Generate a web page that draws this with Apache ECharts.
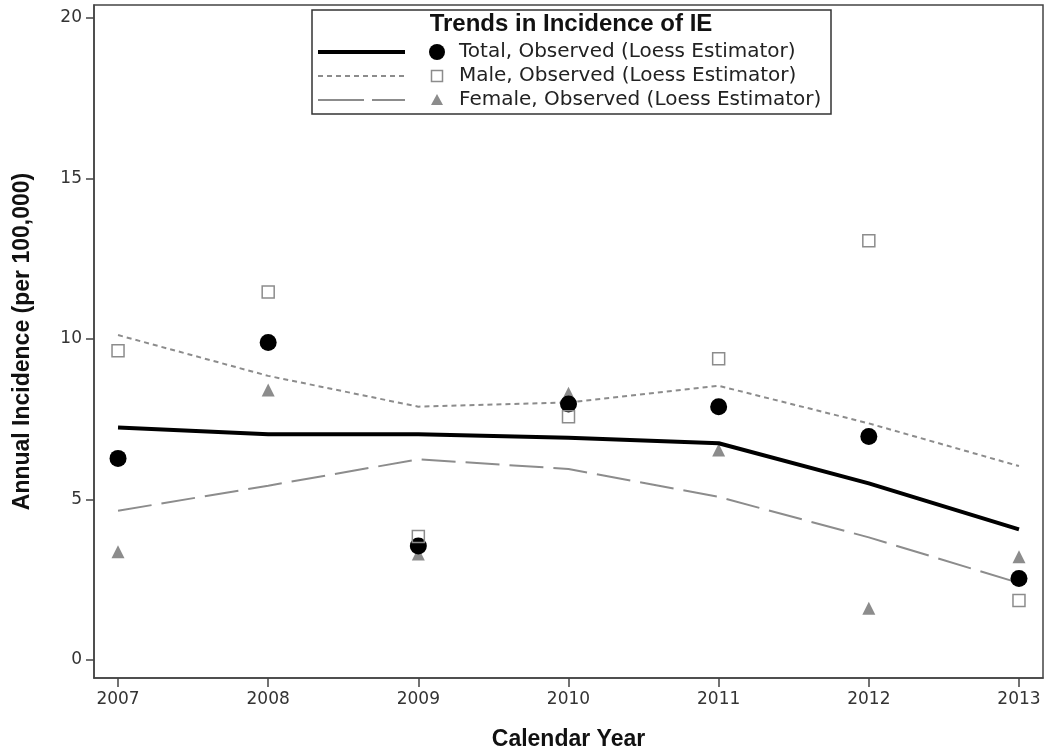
<!DOCTYPE html>
<html><head><meta charset="utf-8">
<script src="https://cdn.jsdelivr.net/npm/echarts@6/dist/echarts.min.js"></script>
<style>html,body{margin:0;padding:0;background:#fff}#c{width:1050px;height:751px}</style>
</head><body><div id="c"></div>
<script>
const years = [2007, 2008, 2009, 2010, 2011, 2012, 2013];
const yTicks = [0, 5, 10, 15, 20];
// Loess estimates
const totalLoess  = [7.24, 7.03, 7.03, 6.92, 6.75, 5.50, 4.07];
const maleLoess   = [10.12, 8.85, 7.89, 8.02, 8.54, 7.37, 6.04];
const femaleLoess = [4.65, 5.43, 6.25, 5.95, 5.08, 3.82, 2.40];
// Observed
const totalObs  = [6.28, 9.89, 3.55, 7.97, 7.89, 6.96, 2.54];
const maleObs   = [9.63, 11.46, 3.85, 7.58, 9.38, 13.06, 1.85];
const femaleObs = [3.37, 8.41, 3.30, 8.31, 6.54, 1.61, 3.22];

const legendTitle = 'Trends in Incidence of IE';
const legendNames = ['Total, Observed (Loess Estimator)', 'Male, Observed (Loess Estimator)', 'Female, Observed (Loess Estimator)'];

const pairs = arr => years.map((y, i) => [y, arr[i]]);
const GRAY = '#8c8c8c';
const TXT = '#333';

const chart = echarts.init(document.getElementById('c'), null, {renderer: 'canvas'});

const lx0 = 318, lx1 = 405, mx = 437, tx = 459;
const rows = [52, 76, 100];

chart.setOption({
  animation: false,
  backgroundColor: '#fff',
  grid: {left: 94, right: 7, top: 5, bottom: 73, show: true, borderColor: '#444', borderWidth: 1.5, containLabel: false, outerBoundsMode: 'none'},
  xAxis: {
    type: 'value', min: 2006.84, max: 2013.16, position: 'bottom',
    name: 'Calendar Year', nameLocation: 'middle', nameGap: 50,
    nameTextStyle: {fontFamily: 'Liberation Sans', fontWeight: 'bold', fontSize: 23, color: '#111'},
    axisLine: {show: true, onZero: false, lineStyle: {color: '#444', width: 1.5}},
    axisTick: {show: true, inside: false, length: 9, lineStyle: {color: '#444', width: 1.5}, customValues: years},
    axisLabel: {customValues: years, fontFamily: 'DejaVu Sans', fontSize: 17, color: TXT, margin: 13, formatter: v => String(v)},
    splitLine: {show: false}
  },
  yAxis: {
    type: 'value', min: -0.56, max: 20.4, position: 'left',
    name: 'Annual Incidence (per 100,000)', nameLocation: 'middle', nameGap: 60, nameRotate: 90,
    nameTextStyle: {fontFamily: 'Liberation Sans', fontWeight: 'bold', fontSize: 23, color: '#111'},
    axisLine: {show: true, onZero: false, lineStyle: {color: '#444', width: 1.5}},
    axisTick: {show: true, inside: false, length: 8, lineStyle: {color: '#444', width: 1.5}, customValues: yTicks},
    axisLabel: {customValues: yTicks, fontFamily: 'DejaVu Sans', fontSize: 17, color: TXT, margin: 12},
    splitLine: {show: false}
  },
  series: [
    {name: 'femaleLoess', type: 'line', data: pairs(femaleLoess), symbol: 'none', z: 2,
     lineStyle: {color: GRAY, width: 2, type: [34, 10]}},
    {name: 'maleLoess', type: 'line', data: pairs(maleLoess), symbol: 'none', z: 2,
     lineStyle: {color: GRAY, width: 2, type: [5, 4]}},
    {name: 'femaleObs', type: 'scatter', data: pairs(femaleObs), symbol: 'triangle', symbolSize: 13, z: 3,
     itemStyle: {color: GRAY, opacity: 1}},
    {name: 'totalLoess', type: 'line', data: pairs(totalLoess), symbol: 'none', z: 4,
     lineStyle: {color: '#000', width: 4}},
    {name: 'totalObs', type: 'scatter', data: pairs(totalObs), symbol: 'circle', symbolSize: 17, z: 5,
     itemStyle: {color: '#000', opacity: 1}},
    {name: 'maleObs', type: 'scatter', data: pairs(maleObs), symbol: 'rect', symbolSize: 12, z: 6,
     itemStyle: {color: 'rgba(255,255,255,0)', borderColor: GRAY, borderWidth: 1.5, opacity: 1}}
  ],
  graphic: [
    {type: 'rect', shape: {x: 312, y: 10, width: 519, height: 104}, style: {fill: '#fff', stroke: '#333', lineWidth: 1.5}, z: 10},
    {type: 'text', x: 571, y: 24, z: 11, style: {text: legendTitle, fontFamily: 'Liberation Sans', fontWeight: 'bold', fontSize: 24, fill: '#111', align: 'center', verticalAlign: 'middle'}},
    {type: 'line', z: 11, shape: {x1: lx0, y1: rows[0], x2: lx1, y2: rows[0]}, style: {stroke: '#000', lineWidth: 4}},
    {type: 'line', z: 11, shape: {x1: lx0, y1: rows[1], x2: lx1, y2: rows[1]}, style: {stroke: GRAY, lineWidth: 2, lineDash: [5, 4]}},
    {type: 'line', z: 11, shape: {x1: lx0, y1: rows[2], x2: lx1, y2: rows[2]}, style: {stroke: GRAY, lineWidth: 2, lineDash: [46, 8]}},
    {type: 'circle', z: 11, shape: {cx: mx, cy: rows[0], r: 8}, style: {fill: '#000'}},
    {type: 'rect', z: 11, shape: {x: mx - 5.5, y: rows[1] - 5.5, width: 11, height: 11}, style: {fill: '#fff', stroke: GRAY, lineWidth: 1.5}},
    {type: 'polygon', z: 11, shape: {points: [[mx, rows[2] - 6], [mx + 6, rows[2] + 5], [mx - 6, rows[2] + 5]]}, style: {fill: GRAY}},
    {type: 'text', z: 11, x: tx, y: rows[0], style: {text: legendNames[0], fontFamily: 'DejaVu Sans', fontSize: 20, fill: '#222', verticalAlign: 'middle'}},
    {type: 'text', z: 11, x: tx, y: rows[1], style: {text: legendNames[1], fontFamily: 'DejaVu Sans', fontSize: 20, fill: '#222', verticalAlign: 'middle'}},
    {type: 'text', z: 11, x: tx, y: rows[2], style: {text: legendNames[2], fontFamily: 'DejaVu Sans', fontSize: 20, fill: '#222', verticalAlign: 'middle'}}
  ]
});
</script></body></html>
